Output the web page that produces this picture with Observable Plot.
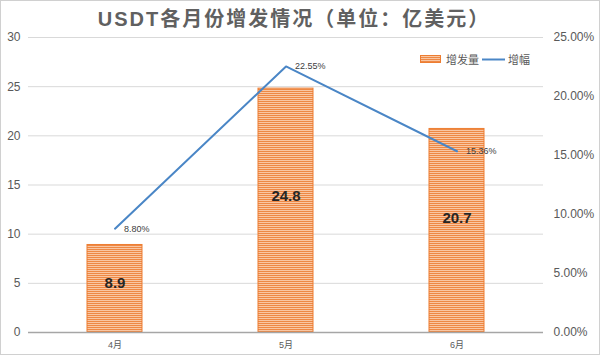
<!DOCTYPE html>
<html>
<head>
<meta charset="utf-8">
<script src="https://cdn.jsdelivr.net/npm/d3@7"></script>
<script src="https://cdn.jsdelivr.net/npm/@observablehq/plot@0.6"></script>
<style>
  html, body { margin: 0; padding: 0; background: #fff; }
  #wrap { position: relative; width: 600px; height: 355px; box-sizing: border-box; border: 1px solid #d0d0d0; overflow: hidden;
    font-family: "Liberation Sans", Arial, "Noto Sans CJK SC", sans-serif; }
  #title { height: 30px; line-height: 36px; text-align: center; font-size: 20px; font-weight: bold; color: #606060; letter-spacing: 2px; padding-right: 12px; }
  #legend { position: absolute; left: 419px; top: 50px; font-size: 11px; color: #595959; display: flex; align-items: center; }
  #legend span { margin-right: 3px; }
  svg { display: block; }
</style>
</head>
<body>
<div id="wrap">
  <div id="title">USDT各月份增发情况（单位：亿美元）</div>
  <div id="legend">
    <svg width="22" height="9" style="margin-right:4px"><rect x="0.5" y="0.5" width="20" height="7" fill="url(#stripesL)" stroke="#ED7D31" stroke-width="1"/>
      <defs><pattern id="stripesL" width="4" height="2" patternUnits="userSpaceOnUse"><rect width="4" height="2" fill="#F9C6A2"/><rect width="4" height="1" fill="#EE8844"/></pattern></defs></svg>
    <span>增发量</span>
    <svg width="24" height="9" style="margin-right:2px"><line x1="0" y1="4.5" x2="23" y2="4.5" stroke="#4A86C6" stroke-width="2"/></svg>
    <span>增幅</span>
  </div>
</div>
<script>
const months = ["4月", "5月", "6月"];
const issuance = [8.9, 24.8, 20.7];
const growth = [8.80, 22.55, 15.36];
const leftTicks = [0, 5, 10, 15, 20, 25, 30];
const rightTicks = [0, 5, 10, 15, 20, 25];
const leftMax = 30, rightMax = 25;

const k = leftMax / rightMax;
const data = months.map((m, i) => ({month: m, value: issuance[i], growth: growth[i]}));

const chart = Plot.plot({
  width: 598,
  height: 323,
  marginLeft: 27,
  marginRight: 56,
  marginTop: 6,
  marginBottom: 22,
  style: {fontFamily: "'Liberation Sans', Arial, 'Noto Sans CJK SC', sans-serif", color: "#595959", background: "transparent"},
  x: {domain: months, paddingInner: 0.68, paddingOuter: 0.34, label: null},
  y: {domain: [0, leftMax], label: null},
  marks: [
    Plot.ruleY(leftTicks.filter(d => d > 0), {stroke: "#d9d9d9", strokeWidth: 1}),
    Plot.barY(data, {x: "month", y: "value", fill: "url(#stripes)", stroke: "#ED7D31", strokeWidth: 1, inset: 0}),
    Plot.ruleY([0], {stroke: "#a6a6a6", strokeWidth: 1.5}),
    Plot.axisY(leftTicks, {anchor: "left", tickSize: 0, tickPadding: 8, fontSize: 12, label: null}),
    Plot.axisY(rightTicks.map(d => d * k), {anchor: "right", tickSize: 0, tickPadding: 10, fontSize: 12, label: null,
      tickFormat: d => (d / k).toFixed(2) + "%"}),
    Plot.axisX({tickSize: 0, tickPadding: 9, fontSize: 9, label: null}),
    Plot.lineY(data, {x: "month", y: d => d.growth * k, stroke: "#4A86C6", strokeWidth: 2}),
    Plot.text(data, {x: "month", y: d => d.growth * k, text: d => d.growth.toFixed(2) + "%", textAnchor: "start", dx: 9, fontSize: 9, fill: "#404040"}),
    Plot.text(data, {x: "month", y: d => d.value * 0.56, text: d => d.value.toFixed(1), fontSize: 15, fontWeight: "bold", fill: "#262626"})
  ]
});

const svg = d3.select(chart);
const defs = svg.insert("defs", ":first-child");
const pat = defs.append("pattern").attr("id", "stripes").attr("width", 4).attr("height", 2).attr("patternUnits", "userSpaceOnUse");
pat.append("rect").attr("width", 4).attr("height", 2).attr("fill", "#F9C6A2");
pat.append("rect").attr("width", 4).attr("height", 1).attr("fill", "#EE8844");

document.getElementById("wrap").appendChild(chart);
</script>
</body>
</html>
